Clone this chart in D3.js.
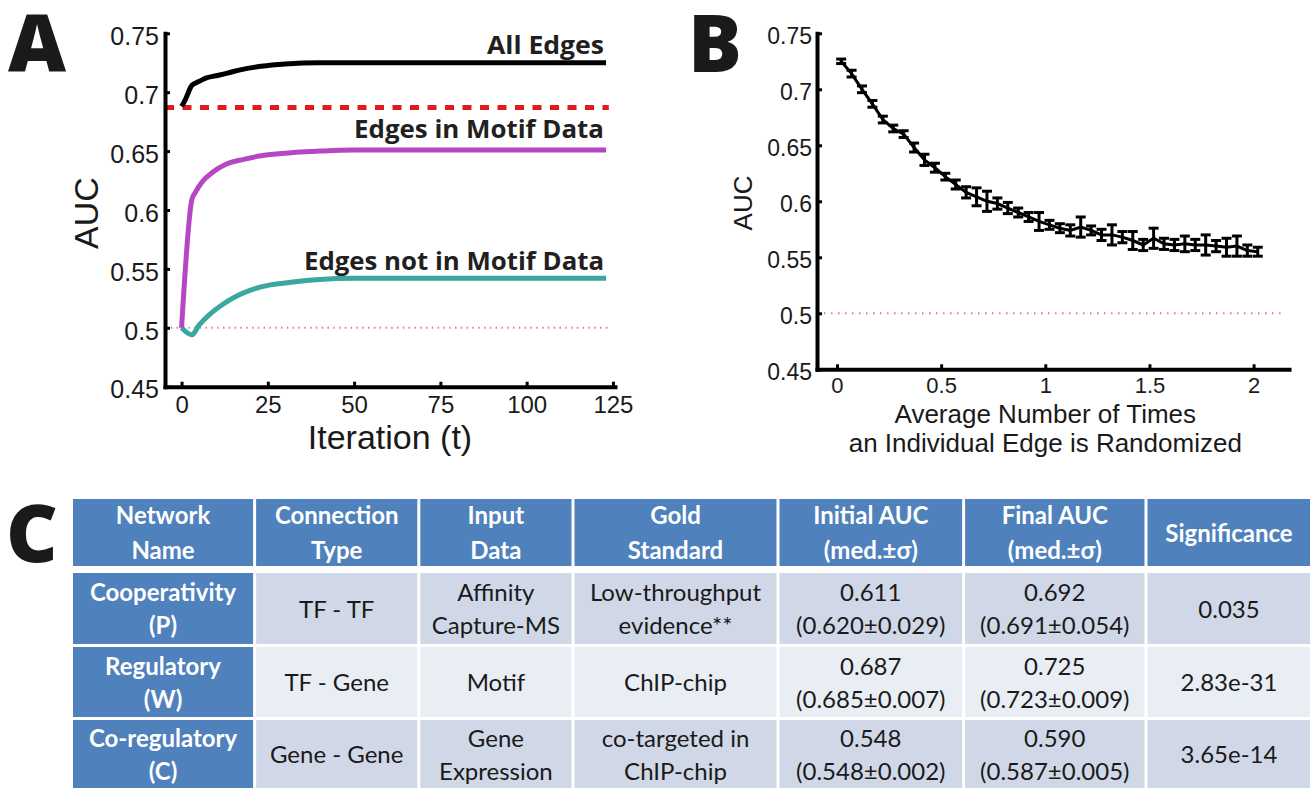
<!DOCTYPE html>
<html lang="en">
<head>
<meta charset="UTF-8">
<title>AUC figure</title>
<script src="https://cdn.jsdelivr.net/npm/d3@7"></script>
<style>
  body { margin: 0; background: #fff; }
  .axis .domain { stroke: #000; stroke-width: 4; stroke-linecap: square; }
  .axis .tick line { stroke: #000; stroke-width: 3; }
  .axis .tick text { font-family: "Liberation Sans", Arial, sans-serif; fill: #1a1a1a; }
  .panelLetter { font-family: "Open Sans", sans-serif; font-weight: 800; fill: #1a1a1a; }
  .curveLabel { font-family: "Open Sans", sans-serif; font-weight: 700; fill: #231f20; }
  .axisTitle { font-family: "Liberation Sans", Arial, sans-serif; fill: #1a1a1a; }
  .cell text { font-family: Lato, "Open Sans", sans-serif; }
</style>
</head>
<body>
<svg id="fig"></svg>
<script>

// ---- Panel A: AUC over iterations ----
var iterAll = [0, 1, 2, 3, 5, 7, 10, 13, 17, 23, 30, 40, 50, 75, 100, 123];
var aucAll  = [0.688, 0.693, 0.700, 0.706, 0.709, 0.712, 0.714, 0.716, 0.719, 0.722, 0.724, 0.725, 0.725, 0.725, 0.725, 0.725];

var iterMotif = [0, 3, 4, 6, 9, 13, 18, 23, 29, 40, 50, 75, 100, 123];
var aucMotif  = [0.500, 0.609, 0.615, 0.624, 0.632, 0.639, 0.643, 0.646, 0.648, 0.650, 0.651, 0.651, 0.651, 0.651];

var iterNoMotif = [0, 3, 5, 8, 12, 16, 20, 25, 30, 40, 50, 75, 100, 123];
var aucNoMotif  = [0.500, 0.494, 0.502, 0.511, 0.520, 0.527, 0.532, 0.536, 0.538, 0.541, 0.542, 0.542, 0.542, 0.542];

var initialAUC = 0.687;
var randomAUC = 0.5;

var xTicksA = [0, 25, 50, 75, 100, 125];
var yTicks = [0.45, 0.5, 0.55, 0.6, 0.65, 0.7, 0.75];
var yTickLabels = ["0.45", "0.5", "0.55", "0.6", "0.65", "0.7", "0.75"];

// ---- Panel B: AUC vs randomization ----
var randX = [0.02, 0.07, 0.12, 0.17, 0.22, 0.27, 0.32, 0.37, 0.42, 0.47,
             0.52, 0.57, 0.62, 0.67, 0.72, 0.77, 0.82, 0.87, 0.92, 0.97,
             1.02, 1.07, 1.12, 1.17, 1.22, 1.27, 1.32, 1.37, 1.42, 1.47,
             1.52, 1.57, 1.62, 1.67, 1.72, 1.77, 1.82, 1.87, 1.92, 1.97, 2.02];
var randAUC = [0.725, 0.714, 0.700, 0.687, 0.673, 0.665, 0.660, 0.648, 0.637, 0.630,
               0.622, 0.615, 0.608, 0.604, 0.600, 0.598, 0.594, 0.590, 0.586, 0.582,
               0.579, 0.576, 0.574, 0.577, 0.574, 0.570, 0.570, 0.568, 0.565, 0.561,
               0.567, 0.562, 0.561, 0.562, 0.561, 0.561, 0.560, 0.559, 0.560, 0.556, 0.555];
var randErr = [0.002, 0.003, 0.003, 0.003, 0.003, 0.003, 0.003, 0.004, 0.005, 0.004,
               0.003, 0.004, 0.005, 0.008, 0.009, 0.005, 0.005, 0.004, 0.004, 0.008,
               0.004, 0.004, 0.005, 0.009, 0.004, 0.005, 0.009, 0.005, 0.008, 0.005,
               0.009, 0.005, 0.005, 0.007, 0.005, 0.009, 0.005, 0.008, 0.009, 0.005, 0.004];

var xTicksB = [0, 0.5, 1, 1.5, 2];
var xTickLabelsB = ["0", "0.5", "1", "1.5", "2"];

// ---- Panel C: table ----
var tableHeader = [["Network", "Name"], ["Connection", "Type"], ["Input", "Data"], ["Gold", "Standard"],
                   ["Initial AUC", "(med.±σ)"], ["Final AUC", "(med.±σ)"], ["Significance"]];
var rowCooperativity = [["Cooperativity", "(P)"], ["TF - TF"], ["Affinity", "Capture-MS"], ["Low-throughput", "evidence**"],
                        ["0.611", "(0.620±0.029)"], ["0.692", "(0.691±0.054)"], ["0.035"]];
var rowRegulatory = [["Regulatory", "(W)"], ["TF - Gene"], ["Motif"], ["ChIP-chip"],
                     ["0.687", "(0.685±0.007)"], ["0.725", "(0.723±0.009)"], ["2.83e-31"]];
var rowCoregulatory = [["Co-regulatory", "(C)"], ["Gene - Gene"], ["Gene", "Expression"], ["co-targeted in", "ChIP-chip"],
                       ["0.548", "(0.548±0.002)"], ["0.590", "(0.587±0.005)"], ["3.65e-14"]];

// layout
var width = 1310, height = 788;
var colEdges = [71.5, 254.6, 418.8, 573, 778, 963.6, 1146, 1312];
var rowEdges = [[499, 566], [573, 644], [647, 717], [720, 792]];
var blue = "#4f81bd";
var rowFills = ["#d0d8e8", "#e9edf4", "#d0d8e8"];

var svg = d3.select("#fig").attr("width", width).attr("height", height);

// ================= Panel A =================
var xA = d3.scaleLinear().domain([-4.8, 125.6]).range([165, 615]);
var yA = d3.scaleLinear().domain([0.45, 0.75]).range([386.7, 33.3]);

svg.append("text").attr("class", "panelLetter").attr("x", 8).attr("y", 72)
    .style("font-size", "80px").text("A");

// reference lines
svg.append("line")
    .attr("x1", xA(-4.8)).attr("x2", xA(124.5))
    .attr("y1", yA(randomAUC)).attr("y2", yA(randomAUC))
    .attr("stroke", "#e27a88").attr("stroke-width", 2).attr("stroke-dasharray", "1.5,4.3");

svg.append("line")
    .attr("x1", xA(-4.8)).attr("x2", xA(123.8))
    .attr("y1", yA(initialAUC)).attr("y2", yA(initialAUC))
    .attr("stroke", "#e31a1c").attr("stroke-width", 5).attr("stroke-dasharray", "9,8.5");

var lineA = d3.line()
    .x(function (d) { return xA(d[0]); })
    .y(function (d) { return yA(d[1]); })
    .curve(d3.curveMonotoneX);

var seriesA = [
    {t: iterNoMotif, v: aucNoMotif, color: "#3aa8a0"},
    {t: iterMotif, v: aucMotif, color: "#b646c4"},
    {t: iterAll, v: aucAll, color: "#000000"}
];

svg.selectAll("path.curveA")
    .data(seriesA)
    .enter()
    .append("path")
    .attr("class", "curveA")
    .attr("fill", "none")
    .attr("stroke", function (d) { return d.color; })
    .attr("stroke-width", 5)
    .attr("stroke-linejoin", "round")
    .attr("d", function (d) { return lineA(d3.zip(d.t, d.v)); });

// curve labels
var curveLabels = [
    {text: "All Edges", y: 54, len: 117},
    {text: "Edges in Motif Data", y: 138, len: 250},
    {text: "Edges not in Motif Data", y: 270, len: 300}
];
svg.selectAll("text.curveLabel")
    .data(curveLabels)
    .enter()
    .append("text")
    .attr("class", "curveLabel")
    .attr("x", function (d) { return 604 - d.len; })
    .attr("y", function (d) { return d.y; })
    .attr("textLength", function (d) { return d.len; })
    .attr("lengthAdjust", "spacingAndGlyphs")
    .style("font-size", "25px")
    .text(function (d) { return d.text; });

// axes
svg.append("g").attr("class", "axis")
    .attr("transform", "translate(0," + yA(0.45) + ")")
    .call(d3.axisBottom(xA).tickValues(xTicksA).tickSizeInner(-5).tickSizeOuter(0).tickPadding(9))
    .selectAll("text").style("font-size", "24px");

svg.append("g").attr("class", "axis")
    .attr("transform", "translate(" + xA(-4.8) + ",0)")
    .call(d3.axisLeft(yA).tickValues(yTicks).tickSizeInner(-5).tickSizeOuter(0).tickPadding(6)
        .tickFormat(function (d, i) { return yTickLabels[i]; }))
    .selectAll("text").style("font-size", "25px").attr("dy", "0.45em");

svg.append("text").attr("class", "axisTitle")
    .attr("x", 390).attr("y", 449).attr("text-anchor", "middle")
    .style("font-size", "34px").text("Iteration (t)");

svg.append("text").attr("class", "axisTitle")
    .attr("transform", "translate(98,213) rotate(-90)").attr("text-anchor", "middle")
    .style("font-size", "34px").text("AUC");

// ================= Panel B =================
var xB = d3.scaleLinear().domain([-0.096, 2.17]).range([817, 1289]);
var yB = d3.scaleLinear().domain([0.45, 0.75]).range([369.3, 33.3]);

svg.append("text").attr("class", "panelLetter").attr("x", 688).attr("y", 72)
    .style("font-size", "80px").text("B");

svg.append("line")
    .attr("x1", xB(-0.096)).attr("x2", xB(2.14))
    .attr("y1", yB(randomAUC)).attr("y2", yB(randomAUC))
    .attr("stroke", "#e27a88").attr("stroke-width", 2).attr("stroke-dasharray", "1.5,5.5");

var pointsB = d3.zip(randX, randAUC, randErr);

svg.append("path")
    .attr("fill", "none")
    .attr("stroke", "#000")
    .attr("stroke-width", 3)
    .attr("d", d3.line()
        .x(function (d) { return xB(d[0]); })
        .y(function (d) { return yB(d[1]); })(pointsB));

var bars = svg.selectAll("g.errbar")
    .data(pointsB)
    .enter()
    .append("g")
    .attr("class", "errbar")
    .attr("stroke", "#000")
    .attr("stroke-width", 3);

bars.append("line")
    .attr("x1", function (d) { return xB(d[0]); })
    .attr("x2", function (d) { return xB(d[0]); })
    .attr("y1", function (d) { return yB(d[1] - d[2]); })
    .attr("y2", function (d) { return yB(d[1] + d[2]); });

bars.selectAll("line.cap")
    .data(function (d) { return [[d[0], d[1] - d[2]], [d[0], d[1] + d[2]]]; })
    .enter()
    .append("line")
    .attr("class", "cap")
    .attr("x1", function (d) { return xB(d[0]) - 5; })
    .attr("x2", function (d) { return xB(d[0]) + 5; })
    .attr("y1", function (d) { return yB(d[1]); })
    .attr("y2", function (d) { return yB(d[1]); });

svg.append("g").attr("class", "axis")
    .attr("transform", "translate(0," + yB(0.45) + ")")
    .call(d3.axisBottom(xB).tickValues(xTicksB).tickSizeInner(-5).tickSizeOuter(0).tickPadding(8)
        .tickFormat(function (d, i) { return xTickLabelsB[i]; }))
    .selectAll("text").style("font-size", "22px");

svg.append("g").attr("class", "axis")
    .attr("transform", "translate(" + xB(-0.096) + ",0)")
    .call(d3.axisLeft(yB).tickValues(yTicks).tickSizeInner(-5).tickSizeOuter(0).tickPadding(5)
        .tickFormat(function (d, i) { return yTickLabels[i]; }))
    .selectAll("text").style("font-size", "23px").attr("dy", "0.45em");

svg.append("text").attr("class", "axisTitle")
    .attr("x", xB(1)).attr("y", 423).attr("text-anchor", "middle")
    .style("font-size", "26px").text("Average Number of Times");
svg.append("text").attr("class", "axisTitle")
    .attr("x", xB(1)).attr("y", 452).attr("text-anchor", "middle")
    .style("font-size", "26px").text("an Individual Edge is Randomized");

svg.append("text").attr("class", "axisTitle")
    .attr("transform", "translate(752,203) rotate(-90)").attr("text-anchor", "middle")
    .style("font-size", "26px").text("AUC");

// ================= Panel C =================
svg.append("text").attr("class", "panelLetter").attr("x", 6).attr("y", 562)
    .style("font-size", "80px").text("C");

var allRows = [tableHeader, rowCooperativity, rowRegulatory, rowCoregulatory];

var rowsG = svg.selectAll("g.trow")
    .data(allRows)
    .enter()
    .append("g")
    .attr("class", "trow");

var cells = rowsG.selectAll("g.cell")
    .data(function (row, r) {
        return row.map(function (lines, c) { return {lines: lines, r: r, c: c}; });
    })
    .enter()
    .append("g")
    .attr("class", "cell");

cells.append("rect")
    .attr("x", function (d) { return colEdges[d.c] + 1.5; })
    .attr("y", function (d) { return rowEdges[d.r][0]; })
    .attr("width", function (d) { return colEdges[d.c + 1] - colEdges[d.c] - 3; })
    .attr("height", function (d) { return rowEdges[d.r][1] - rowEdges[d.r][0]; })
    .attr("fill", function (d) { return (d.r === 0 || d.c === 0) ? blue : rowFills[d.r - 1]; });

cells.append("text")
    .attr("text-anchor", "middle")
    .attr("fill", function (d) { return (d.r === 0 || d.c === 0) ? "#ffffff" : "#1a1a1a"; })
    .style("font-weight", function (d) { return (d.r === 0 || d.c === 0) ? 700 : 400; })
    .style("font-size", "24px")
    .each(function (d) {
        var cx = (colEdges[d.c] + colEdges[d.c + 1]) / 2;
        var cy = (rowEdges[d.r][0] + Math.min(rowEdges[d.r][1], 788)) / 2;
        var n = d.lines.length;
        var gap = d.r === 0 ? 35 : 33;
        var sel = d3.select(this);
        d.lines.forEach(function (line, i) {
            sel.append("tspan")
                .attr("x", cx)
                .attr("y", cy + 9 + (i - (n - 1) / 2) * gap)
                .text(line);
        });
    });

</script>
</body>
</html>
